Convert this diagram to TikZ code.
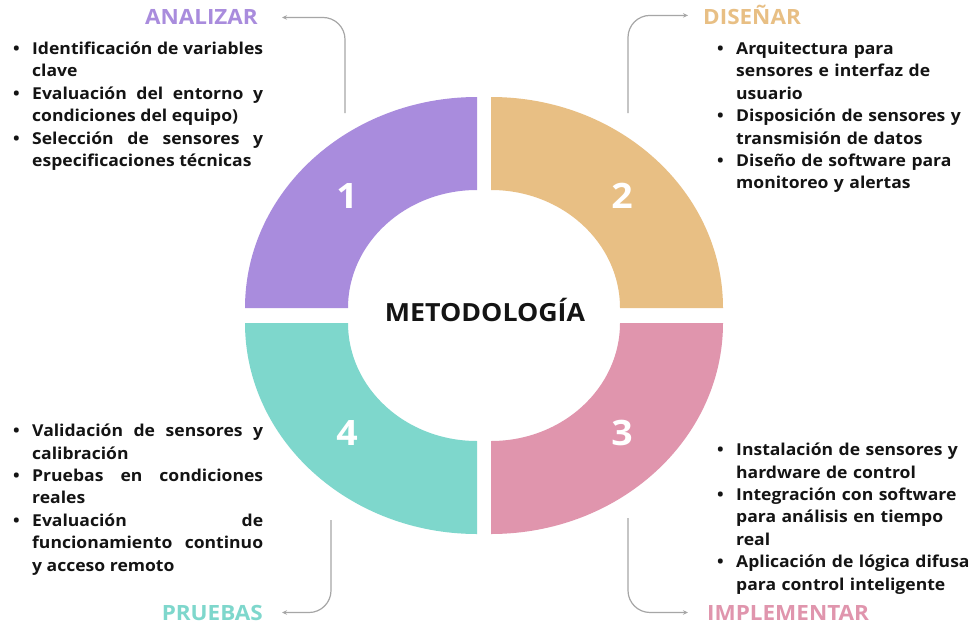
\documentclass[tikz,border=0pt]{standalone}
\usepackage{fontspec}
\usetikzlibrary{arrows.meta}
\newfontfamily\osb{Open Sans}[FakeStretch=1.07]
\definecolor{cPur}{HTML}{A98CDD}
\definecolor{cOra}{HTML}{E8BF84}
\definecolor{cPin}{HTML}{E095AD}
\definecolor{cTea}{HTML}{7ED7CC}
\definecolor{linegray}{HTML}{A6A6A6}
\definecolor{textblack}{HTML}{141414}
% one bullet item with a hanging indent
\newcommand\bul{\par\hangindent=20pt\hangafter=1\noindent\makebox[20pt][l]{\hspace{1pt}\textbullet}}
\begin{document}
\begin{tikzpicture}[x=1pt,y=-1pt,
  num/.style={text=white,inner sep=0pt,anchor=base,font=\osb\bfseries\fontsize{35}{35}\selectfont},
  lbl/.style={inner sep=0pt,font=\osb\bfseries\fontsize{21}{21}\selectfont},
  blk/.style={inner sep=0pt,anchor=north west,text=textblack,
    font=\osb\bfseries\fontsize{16.4}{22.4}\selectfont,
    execute at begin node={\parskip=0pt\hyphenpenalty=10000\exhyphenpenalty=10000}},
  blkL/.style={blk,text width=251pt,align=justify},
  blkR/.style={blk,text width=262pt,align=left},
  conn/.style={draw=linegray,line width=1.2pt,rounded corners=22pt,-{Stealth[length=5pt,width=4.5pt]}},
]
\useasboundingbox (0,0) rectangle (971,626);
\fill[white] (0,0) rectangle (971,626);

% ring quadrants
\fill[cPur] (477,97) arc[start angle=90,end angle=180,x radius=232pt,y radius=211pt]
  -- (348,308) arc[start angle=180,end angle=90,x radius=129pt,y radius=118pt] -- cycle;
\fill[cOra] (491,97) arc[start angle=90,end angle=0,x radius=232pt,y radius=211pt]
  -- (620,308) arc[start angle=0,end angle=90,x radius=129pt,y radius=118pt] -- cycle;
\fill[cTea] (245,323) arc[start angle=180,end angle=270,x radius=232pt,y radius=211pt]
  -- (477,441) arc[start angle=270,end angle=180,x radius=129pt,y radius=118pt] -- cycle;
\fill[cPin] (723,323) arc[start angle=0,end angle=-90,x radius=232pt,y radius=211pt]
  -- (491,441) arc[start angle=-90,end angle=0,x radius=129pt,y radius=118pt] -- cycle;

\node[num] (n1) at (347,208) {1};
\node[num] (n2) at (622,208) {2};
\node[num] (n3) at (622,445) {3};
\node[num] (n4) at (347,445) {4};

\node[inner sep=0pt,anchor=base,text=textblack,font=\osb\bfseries\fontsize{25}{25}\selectfont] (met) at (485,321) {METODOLOGÍA};

% stage titles
\node[lbl,text=cPur,anchor=base east] (lA) at (258,25) {ANALIZAR};
\node[lbl,text=cOra,anchor=base west] (lD) at (703,25) {DISEÑAR};
\node[lbl,text=cPin,anchor=base west] (lI) at (707,620) {IMPLEMENTAR};
\node[lbl,text=cTea,anchor=base east] (lP) at (263,620) {PRUEBAS};

% connectors
\coordinate (sA) at (345,113);
\coordinate (sD) at (628,113);
\coordinate (sI) at (628,518);
\coordinate (sP) at (331,520);
\draw[conn,shorten >=24pt] (sA) |- (lA.east);
\draw[conn,shorten >=15pt] (sD) |- (lD.west);
\draw[conn,shorten >=19pt] (sI) |- (lI.west);
\draw[conn,shorten >=19pt] (sP) |- (lP.east);

% bullet lists
\node[blkL] (tA) at (12,32) {\bul Identificación de variables\linebreak clave
\bul Evaluación del entorno y\linebreak condiciones del equipo)
\bul Selección de sensores y\linebreak especificaciones técnicas\par};
\node[blkR] (tD) at (716,32) {\bul Arquitectura para\newline sensores e interfaz de\newline usuario
\bul Disposición de sensores y\newline transmisión de datos
\bul Diseño de software para\newline monitoreo y alertas\par};
\node[blkL] (tP) at (12,414) {\bul Validación de sensores y\linebreak calibración
\bul Pruebas en condiciones\linebreak reales
\bul Evaluación de\linebreak funcionamiento continuo\linebreak y acceso remoto\par};
\node[blkR] (tI) at (716,433) {\bul Instalación de sensores y\newline hardware de control
\bul Integración con software\newline para análisis en tiempo\newline real
\bul Aplicación de lógica difusa\newline para control inteligente\par};
\end{tikzpicture}
\end{document}
